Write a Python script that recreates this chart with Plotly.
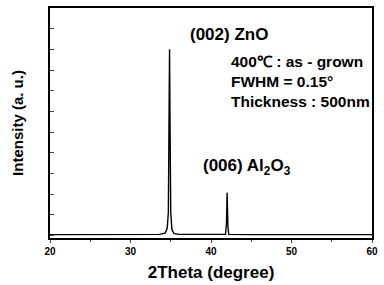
import plotly.graph_objects as go

# Digitised XRD scan (2theta in degrees, intensity normalised to ZnO peak)
two_theta = [20.0, 25.0, 30.0, 33.6, 34.3, 34.55, 34.7, 34.78, 34.85, 34.92, 35.0, 35.15, 35.4, 36.0,
             40.0, 41.8, 41.92, 41.97, 42.0, 42.04, 42.1, 42.2, 45.0, 50.0, 55.0, 60.0]
intensity = [0.004, 0.004, 0.004, 0.005, 0.012, 0.035, 0.12, 0.55, 1.0, 0.55, 0.12, 0.03, 0.01, 0.005,
             0.004, 0.006, 0.06, 0.16, 0.229, 0.16, 0.05, 0.005, 0.004, 0.004, 0.004, 0.004]

x_ticks = [20, 30, 40, 50, 60]
x_range = [20, 60]
y_range = [-0.0143, 1.222]

font_family = "Liberation Sans, Arial, sans-serif"

fig = go.Figure()
fig.add_trace(go.Scatter(x=two_theta, y=intensity, mode="lines",
                         line=dict(color="black", width=1.4), showlegend=False))

fig.update_layout(
    width=384, height=285,
    margin=dict(l=50, r=6, t=6, b=45),
    paper_bgcolor="white", plot_bgcolor="white",
    font=dict(family=font_family, color="black", weight="bold"),
)
fig.update_xaxes(
    range=x_range, tickvals=x_ticks, ticks="outside", ticklen=3, tickwidth=1.2,
    minor=dict(dtick=5, ticks="outside", ticklen=2, tickwidth=1),
    showline=True, linecolor="black", linewidth=1.5, mirror=True,
    showgrid=False, zeroline=False,
    tickfont=dict(size=10, family=font_family, weight="bold"),
    title=dict(text="2Theta (degree)", font=dict(size=17, family=font_family, weight="bold"), standoff=10),
)
fig.update_yaxes(
    range=y_range, tick0=0, dtick=0.111, ticks="inside", ticklen=4, tickwidth=1,
    showticklabels=False,
    showline=True, linecolor="black", linewidth=1.5, mirror=True,
    showgrid=False, zeroline=False,
    title=dict(text="Intensity (a. u.)", font=dict(size=15, family=font_family, weight="bold"), standoff=21),
)

annotations = [
    ("(002) ZnO", 0.43, 0.884, 17),
    ("400\u2103 : as - grown", 0.556, 0.768, 15.5),
    ("FWHM = 0.15\u00b0", 0.556, 0.682, 15.5),
    ("Thickness : 500nm", 0.556, 0.592, 15.5),
    ("(006) Al<sub>2</sub>O<sub>3</sub>", 0.468, 0.31, 17),
]
for text, ax, ay, size in annotations:
    fig.add_annotation(text=text, xref="paper", yref="paper", x=ax, y=ay,
                       xanchor="left", yanchor="middle", showarrow=False,
                       font=dict(size=size, family=font_family, weight="bold", color="black"))

fig.write_html("out.html", config={"displayModeBar": False},
               post_script="document.body.style.margin='0';document.body.style.padding='0';")
